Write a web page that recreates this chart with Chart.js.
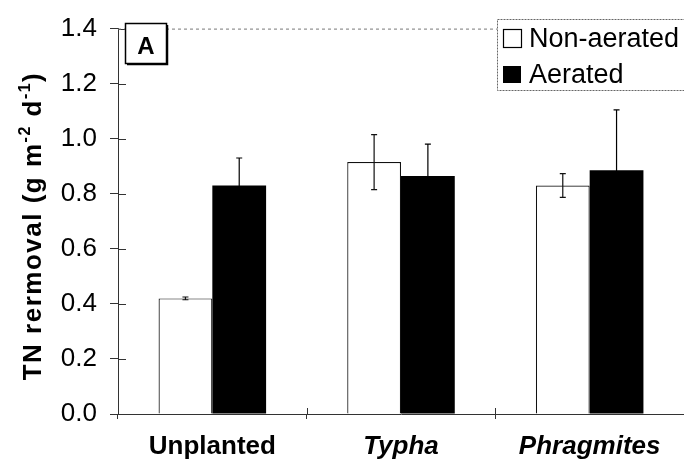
<!DOCTYPE html>
<html>
<head>
<meta charset="utf-8">
<script src="https://cdn.jsdelivr.net/npm/chart.js@4"></script>
<style>
  html, body { margin: 0; padding: 0; background: #fff; }
  #wrap { width: 684px; height: 467px; }
</style>
</head>
<body>
<div id="wrap"><canvas id="tnChart" width="684" height="467"></canvas></div>
<script>
// Data
const categories = ['Unplanted', 'Typha', 'Phragmites'];
const nonAerated = [0.42, 0.915, 0.83];
const aerated = [0.83, 0.865, 0.885];
const nonAeratedErr = [0.005, 0.10, 0.043];
const aeratedErr = [0.10, 0.115, 0.22];
const yTicks = [0, 0.2, 0.4, 0.6, 0.8, 1.0, 1.2, 1.4];

const FONT = '"Liberation Sans", Arial, Helvetica, sans-serif';
const errors = [nonAeratedErr, aeratedErr];

// Error bars, inner tick marks, panel label, legend, y title
const extras = {
  id: 'extras',
  afterDatasetsDraw(chart) {
    const ctx = chart.ctx;
    const y = chart.scales.y;
    const x = chart.scales.x;
    const area = chart.chartArea;
    ctx.save();

    // error bars
    chart.data.datasets.forEach((ds, di) => {
      const meta = chart.getDatasetMeta(di);
      meta.data.forEach((bar, i) => {
        const v = ds.data[i], e = errors[di][i];
        const top = y.getPixelForValue(v + e);
        const bot = y.getPixelForValue(v - e);
        ctx.strokeStyle = di === 0 ? '#111' : '#000';
        ctx.lineWidth = 1.2;
        ctx.beginPath();
        ctx.moveTo(bar.x, top); ctx.lineTo(bar.x, bot);
        ctx.moveTo(bar.x - 3, top); ctx.lineTo(bar.x + 3, top);
        ctx.moveTo(bar.x - 3, bot); ctx.lineTo(bar.x + 3, bot);
        ctx.stroke();
      });
    });

    // inner tick marks
    ctx.strokeStyle = '#333';
    ctx.lineWidth = 1;
    ctx.beginPath();
    yTicks.forEach(t => {
      const py = Math.round(y.getPixelForValue(t)) + 0.5;
      ctx.moveTo(area.left, py); ctx.lineTo(area.left + 8, py);
    });
    for (let i = 0; i < categories.length - 1; i++) {
      const px = Math.round((x.getPixelForValue(i) + x.getPixelForValue(i + 1)) / 2) + 0.5;
      ctx.moveTo(px, area.bottom); ctx.lineTo(px, area.bottom - 6);
    }
    ctx.stroke();

    // dotted top frame
    ctx.strokeStyle = '#777';
    ctx.setLineDash([3, 3]);
    ctx.beginPath();
    ctx.moveTo(area.left, area.top + 0.5); ctx.lineTo(chart.width, area.top + 0.5);
    ctx.stroke();
    ctx.setLineDash([]);

    // panel label "A"
    ctx.fillStyle = '#fff';
    ctx.fillRect(125, 23, 42, 41);
    ctx.strokeStyle = '#000';
    ctx.lineWidth = 1.5;
    ctx.strokeRect(125.5, 23.5, 41, 40);
    ctx.beginPath();
    ctx.moveTo(127, 64.5); ctx.lineTo(167.5, 64.5); ctx.lineTo(167.5, 25);
    ctx.stroke();
    ctx.fillStyle = '#000';
    ctx.font = 'bold 24px ' + FONT;
    ctx.textAlign = 'center';
    ctx.textBaseline = 'alphabetic';
    ctx.fillText('A', 146, 54);

    // legend
    ctx.fillStyle = '#fff';
    ctx.fillRect(497, 19, 190, 72);
    ctx.strokeStyle = '#666';
    ctx.lineWidth = 1;
    ctx.setLineDash([2, 1]);
    ctx.strokeRect(497.5, 19.5, 190, 71);
    ctx.setLineDash([]);
    ctx.strokeStyle = '#000';
    ctx.lineWidth = 1.2;
    ctx.strokeRect(503.5, 29.5, 18, 18);
    ctx.fillStyle = '#000';
    ctx.fillRect(503, 66, 18, 17);
    ctx.font = '27px ' + FONT;
    ctx.textAlign = 'left';
    ctx.fillText('Non-aerated', 529, 47);
    ctx.fillText('Aerated', 529, 83);

    // y axis title with superscripts
    ctx.translate(41, 226);
    ctx.rotate(-Math.PI / 2);
    ctx.letterSpacing = '1.5px';
    const parts = [
      ['TN rermoval (g m', 26, 0],
      ['-2', 16, -11],
      [' d', 26, 0],
      ['-1', 16, -11],
      [')', 26, 0]
    ];
    let total = 0;
    parts.forEach(p => { ctx.font = 'bold ' + p[1] + 'px ' + FONT; total += ctx.measureText(p[0]).width; });
    let cx = -total / 2;
    parts.forEach(p => {
      ctx.font = 'bold ' + p[1] + 'px ' + FONT;
      ctx.fillText(p[0], cx, p[2]);
      cx += ctx.measureText(p[0]).width;
    });
    ctx.restore();
  }
};

new Chart(document.getElementById('tnChart'), {
  type: 'bar',
  data: {
    labels: categories,
    datasets: [
      {
        label: 'Non-aerated',
        data: nonAerated,
        backgroundColor: '#fff',
        borderColor: '#111',
        borderWidth: { top: 1.2, left: 1.2, right: 1.2, bottom: 0 },
        borderSkipped: 'start'
      },
      {
        label: 'Aerated',
        data: aerated,
        backgroundColor: '#000',
        borderColor: '#000',
        borderWidth: 0
      }
    ]
  },
  options: {
    responsive: false,
    animation: false,
    devicePixelRatio: 1,
    layout: { padding: { top: 16, right: -3, left: 0, bottom: 0 } },
    plugins: { legend: { display: false }, tooltip: { enabled: false } },
    datasets: { bar: { categoryPercentage: 0.57, barPercentage: 1.0 } },
    scales: {
      x: {
        grid: { display: true, drawOnChartArea: false, offset: true, tickLength: 5, color: '#333' },
        border: { display: true, color: '#333', width: 1 },
        ticks: {
          color: '#000',
          padding: 12,
          font: c => ({ family: FONT, size: 26, weight: 'bold', style: c.index > 0 ? 'italic' : 'normal' })
        },
        afterFit: s => { s.height = 53; }
      },
      y: {
        min: 0,
        max: 1.4,
        afterBuildTicks: s => { s.ticks = yTicks.map(v => ({ value: v })); },
        grid: { display: true, drawOnChartArea: false, tickLength: 8, color: '#333' },
        border: { display: true, color: '#333', width: 1 },
        ticks: {
          color: '#000',
          padding: 13,
          font: { family: FONT, size: 26 },
          callback: v => Number(v).toFixed(1)
        },
        afterFit: s => { s.width = 118; }
      }
    }
  },
  plugins: [extras]
});
</script>
</body>
</html>
